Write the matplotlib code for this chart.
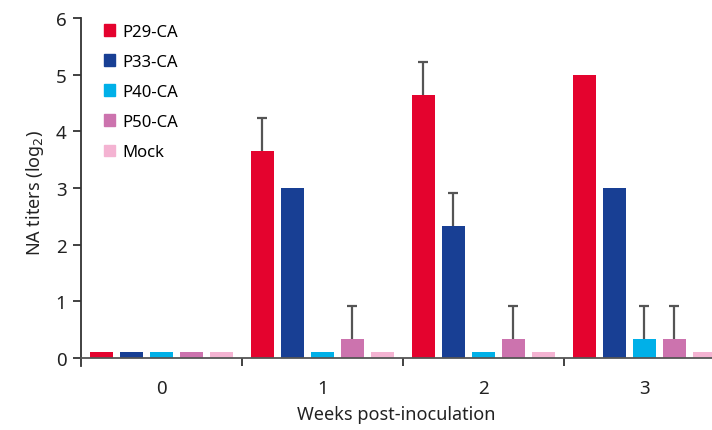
import matplotlib.pyplot as plt
import numpy as np
from matplotlib.patches import Patch

plt.rcParams['font.family'] = ['Noto Sans', 'DejaVu Sans']

# data
weeks = ['0', '1', '2', '3']
groups = ['P29-CA', 'P33-CA', 'P40-CA', 'P50-CA', 'Mock']
colors = ['#E4032E', '#183F94', '#00B0E8', '#CC73AE', '#F4B3D2']

p29 = [0.1, 3.65, 4.65, 5.0]
p33 = [0.1, 3.0, 2.33, 3.0]
p40 = [0.1, 0.1, 0.1, 0.33]
p50 = [0.1, 0.33, 0.33, 0.33]
mock = [0.1, 0.1, 0.1, 0.1]

p29_err = [0, 0.58, 0.58, 0]
p33_err = [0, 0, 0.58, 0]
p40_err = [0, 0, 0, 0.58]
p50_err = [0, 0.58, 0.58, 0.58]
mock_err = [0, 0, 0, 0]

values = [p29, p33, p40, p50, mock]
errors = [p29_err, p33_err, p40_err, p50_err, mock_err]

fig = plt.figure(figsize=(7.12, 4.31), dpi=100)
ax = fig.add_axes([81/712, 64/431, 1 - 81/712, 348/431])

x = np.arange(len(weeks))
step = 30/161
width = 23/161
for i in range(len(groups)):
    pos = x + (i - 2) * step
    ax.bar(pos, values[i], width, color=colors[i], zorder=2)
    err = np.array(errors[i])
    mask = err > 0
    if mask.any():
        eb = ax.errorbar(pos[mask], np.array(values[i])[mask],
                         yerr=[np.zeros(mask.sum()), err[mask]],
                         fmt='none', ecolor='#555555', elinewidth=1.6,
                         capsize=3.5, capthick=1.6, zorder=1)
        eb[1][0].set_visible(False)  # hide the lower cap

ax.set_xlim(-0.5, 3.42)
ax.set_ylim(-0.14, 6)

for s in ['top', 'right']:
    ax.spines[s].set_visible(False)
ax.spines['left'].set_bounds(-0.14, 6)
ax.spines['left'].set_color('#333333')
ax.spines['left'].set_linewidth(1.3)
ax.spines['bottom'].set_position(('data', 0))
ax.spines['bottom'].set_color('#555555')
ax.spines['bottom'].set_linewidth(1.3)

ax.set_yticks(range(7))
ax.tick_params(axis='y', length=5.5, width=1.3, color='#333333',
               labelsize=13.5, pad=5, labelcolor='#222222')

ax.set_xticks(x)
ax.set_xticklabels(weeks)
ax.set_xticks([0.5, 1.5, 2.5], minor=True)
ax.tick_params(axis='x', which='major', length=0, labelsize=13.5, pad=15,
               labelcolor='#222222')
ax.tick_params(axis='x', which='minor', length=6, width=1.3, color='#333333')

ax.set_ylabel('NA titers (log$_2$)', fontsize=13, color='#222222', labelpad=7)
ax.set_xlabel('Weeks post-inoculation', fontsize=13, color='#222222', labelpad=6)

handles = [Patch(color=c, label=g) for c, g in zip(colors, groups)]
ax.legend(handles=handles, loc='upper left', bbox_to_anchor=(0.012, 1.027),
          frameon=False, fontsize=12, handlelength=0.7, handleheight=0.7,
          handletextpad=0.45, labelspacing=0.85)

fig.savefig('out.png', dpi=100)
